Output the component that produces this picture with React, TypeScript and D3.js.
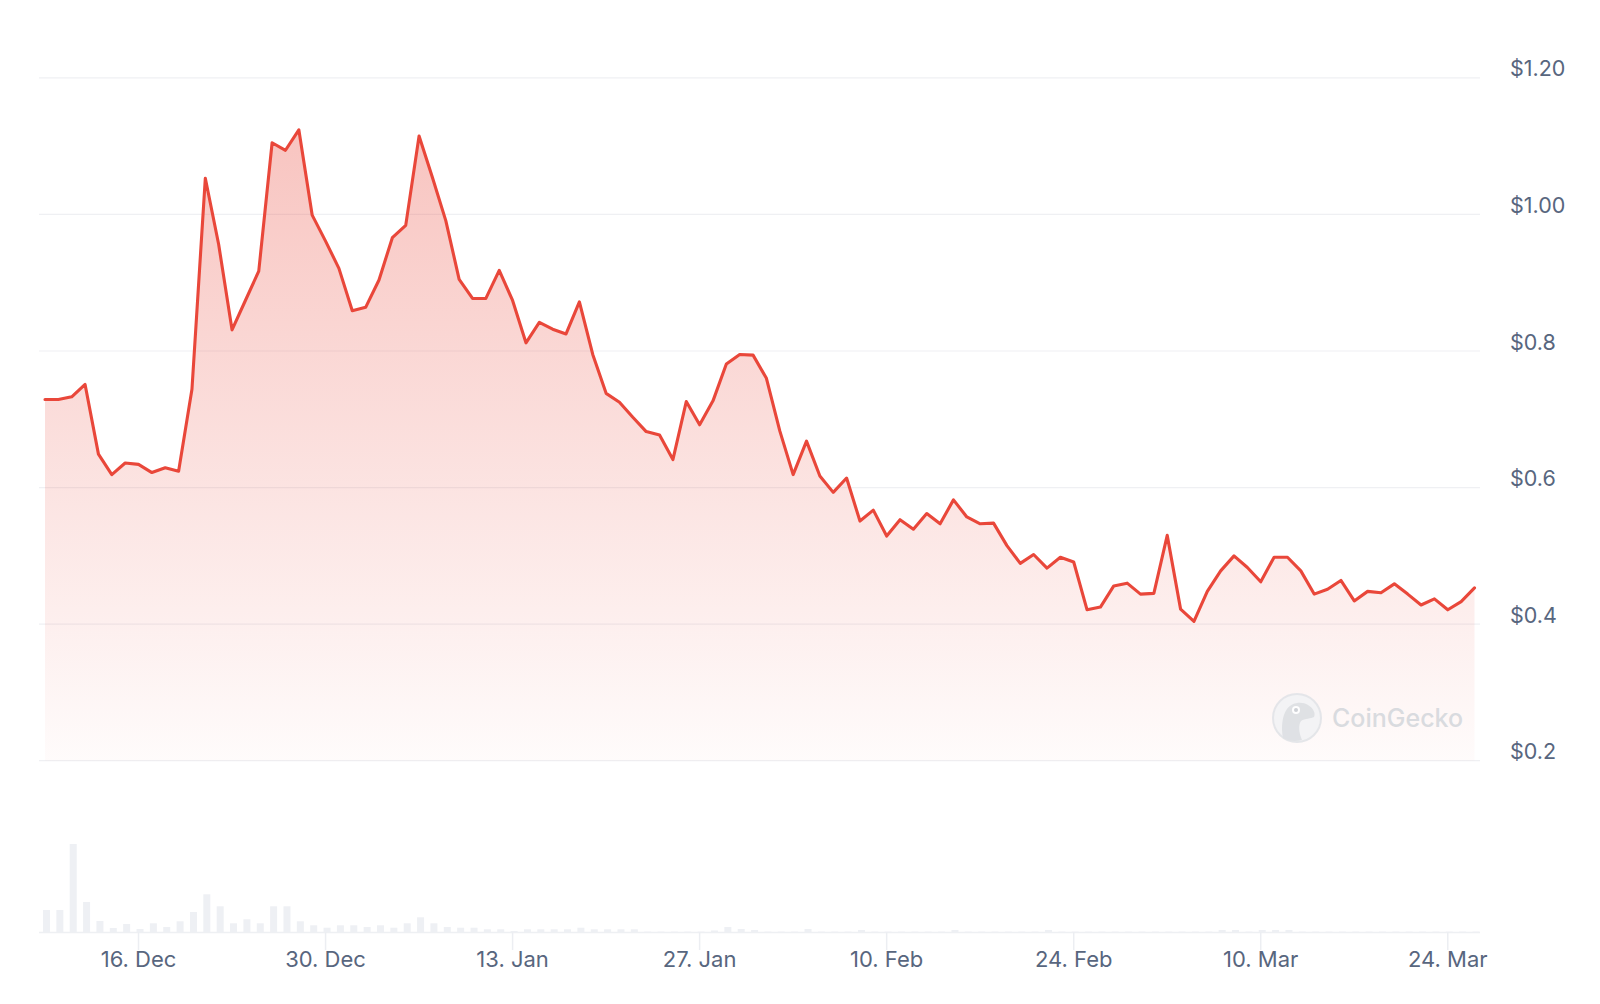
import React from 'react';
import * as d3 from 'd3';

// ---- data ----
const startDate = '2024-12-09';

const prices: number[] = [
  0.729, 0.729, 0.733, 0.751, 0.649, 0.619, 0.636, 0.634, 0.622, 0.629,
  0.624, 0.744, 1.053, 0.956, 0.831, 0.874, 0.917, 1.105, 1.094, 1.124,
  0.999, 0.961, 0.921, 0.859, 0.864, 0.904, 0.966, 0.984, 1.115, 1.054,
  0.991, 0.905, 0.877, 0.877, 0.918, 0.874, 0.812, 0.842, 0.832, 0.825,
  0.872, 0.795, 0.738, 0.725, 0.703, 0.682, 0.677, 0.641, 0.726, 0.692,
  0.727, 0.781, 0.795, 0.794, 0.760, 0.683, 0.619, 0.668, 0.617, 0.593,
  0.614, 0.551, 0.567, 0.529, 0.553, 0.539, 0.562, 0.547, 0.582, 0.557,
  0.547, 0.548, 0.515, 0.489, 0.502, 0.482, 0.498, 0.491, 0.421, 0.425,
  0.456, 0.460, 0.444, 0.445, 0.530, 0.422, 0.404, 0.448, 0.478, 0.500,
  0.483, 0.462, 0.498, 0.498, 0.478, 0.444, 0.451, 0.464, 0.434, 0.448,
  0.446, 0.459, 0.444, 0.428, 0.437, 0.421, 0.433, 0.453,
];

// trading volume (relative units, M USD)
const volumes: number[] = [
  22, 22, 88, 30, 11, 4, 8, 3, 8.7, 5,
  10.7, 20, 37.7, 25.7, 8.7, 12.7, 8.7, 25.7, 25.7, 10.7,
  6.7, 4.3, 6.7, 6.7, 5, 6.7, 4.3, 8.7, 14.7, 8.7,
  5, 4.3, 4.3, 2.7, 2.7, 1, 2.7, 2.7, 2.7, 2.7,
  4.3, 2.7, 2.7, 2.7, 2.7, 0.4, 0.4, 0.4, 0.4, 0.4,
  1.5, 5, 3, 2, 0.4, 0.4, 0.4, 3, 0.4, 0.4,
  0.4, 2, 0.4, 0.4, 0.4, 0.4, 0.4, 0.4, 2, 0.4,
  0.4, 0.4, 0.4, 0.4, 0.4, 2, 0.4, 0.4, 0.4, 0.4,
  0.4, 0.4, 0.4, 0.4, 0.4, 0.4, 0.4, 0.4, 2, 2,
  0.4, 2, 2, 2, 0.4, 0.4, 0.4, 0.4, 0.4, 0.4,
  0.4, 0.4, 0.4, 0.4, 0.4, 0.4, 0.4, 0.4,
];

const yTickValues = [0.2, 0.4, 0.6, 0.8, 1.0, 1.2];
const yTickLabels = ['$0.2', '$0.4', '$0.6', '$0.8', '$1.00', '$1.20'];

const xTickDates = ['2024-12-16', '2024-12-30', '2025-01-13', '2025-01-27', '2025-02-10', '2025-02-24', '2025-03-10', '2025-03-24'];
const xTickLabels = ['16. Dec', '30. Dec', '13. Jan', '27. Jan', '10. Feb', '24. Feb', '10. Mar', '24. Mar'];

const W = 1600;
const H = 1004;
const FONT = 'Inter, "Noto Sans", sans-serif';
const LINE = '#e9473a';
const TEXT = '#58667e';

export default function App() {
  const start = new Date(startDate + 'T00:00:00Z');
  const dates = prices.map((_, i) => d3.utcDay.offset(start, i));

  const x = d3.scaleUtc().domain([dates[0], dates[dates.length - 1]]).range([45, 1474.5]);
  const y = d3.scaleLinear().domain([0.2, 1.2]).range([760.7, 77.9]);
  const v = d3.scaleLinear().domain([0, 100]).range([932, 832]);

  const gridLeft = 39;
  const gridRight = 1480;
  const baseY = v(0);

  const data = prices.map((p, i) => ({ d: dates[i], p, vol: volumes[i] }));

  const line = d3.line<any>().x((d) => x(d.d)).y((d) => y(d.p)).curve(d3.curveLinear);
  const area = d3.area<any>().x((d) => x(d.d)).y0(y(0.2)).y1((d) => y(d.p)).curve(d3.curveLinear);

  const barW = 7;

  return (
    <div style={{ position: 'absolute', left: 0, top: 0, width: W, height: H, background: '#fff' }}>
      <svg width={W} height={H} viewBox={`0 0 ${W} ${H}`} style={{ display: 'block' }}>
        <defs>
          <linearGradient id="areaGrad" x1="0" y1="0" x2="0" y2="1">
            <stop offset="0%" stopColor={LINE} stopOpacity={0.32} />
            <stop offset="100%" stopColor={LINE} stopOpacity={0.02} />
          </linearGradient>
        </defs>
        <rect x={0} y={0} width={W} height={H} fill="#ffffff" />

        {/* grid lines */}
        {yTickValues.map((t) => (
          <line key={'g' + t} x1={gridLeft} x2={gridRight} y1={y(t)} y2={y(t)} stroke="#eff0f3" strokeWidth={1.2} />
        ))}

        {/* volume bars */}
        {data.map((d, i) => (
          <rect
            key={'v' + i}
            x={x(d.d) + 1.5 - barW / 2}
            y={v(d.vol)}
            width={barW}
            height={baseY - v(d.vol)}
            fill="#eef0f4"
          />
        ))}

        {/* x axis line + ticks */}
        <line x1={gridLeft} x2={gridRight} y1={baseY + 0.5} y2={baseY + 0.5} stroke="#eef0f3" strokeWidth={1.5} />
        {xTickDates.map((s, i) => {
          const tx = x(new Date(s + 'T00:00:00Z'));
          return (
            <g key={'xt' + i}>
              <line x1={tx} x2={tx} y1={baseY} y2={baseY + 18} stroke="#eceef2" strokeWidth={1.5} />
              <text x={tx} y={967} textAnchor="middle" fontFamily={FONT} fontSize={22} fill={TEXT}>
                {xTickLabels[i]}
              </text>
            </g>
          );
        })}

        {/* area + line */}
        <path d={area(data) || ''} fill="url(#areaGrad)" />
        <path d={line(data) || ''} fill="none" stroke={LINE} strokeWidth={3.1} strokeLinejoin="round" strokeLinecap="round" />

        {/* y labels */}
        {yTickValues.map((t, i) => (
          <text key={'yl' + t} x={1510} y={y(t) - 1.5} fontFamily={FONT} fontSize={21.5} fill={TEXT}>
            {yTickLabels[i]}
          </text>
        ))}

        {/* watermark */}
        <g opacity={0.9}>
          <circle cx={1297} cy={718} r={24} fill="#f2f3f5" stroke="#e2e4e8" strokeWidth={2} />
          <path
            d="M1283,738 C1281,728 1282,716 1287,709 C1292,702 1302,701 1308,705 C1313,708 1316,713 1314,717 C1311,719 1305,718 1301,721 C1298,725 1299,733 1302,740 C1295,742 1288,741 1283,738 Z"
            fill="#dcdfe3"
          />
          <circle cx={1296} cy={710} r={4} fill="#ffffff" />
          <circle cx={1296} cy={710} r={2} fill="#c9cdd3" />
          <text x={1332} y={726.5} fontFamily={FONT} fontSize={25} fontWeight={500} fill="#d5d8dd">
            CoinGecko
          </text>
        </g>
      </svg>
    </div>
  );
}
